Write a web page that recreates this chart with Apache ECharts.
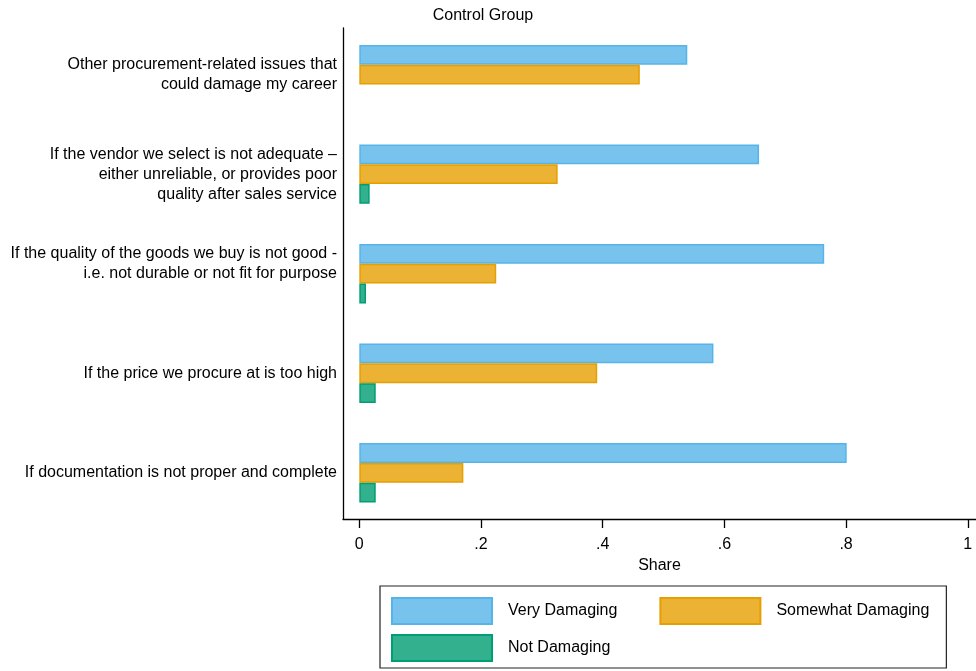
<!DOCTYPE html>
<html>
<head>
<meta charset="utf-8">
<script src="https://cdn.jsdelivr.net/npm/echarts@6/dist/echarts.min.js"></script>
<style>html,body{margin:0;padding:0;background:#fff}#c{width:976px;height:671px}</style>
</head>
<body>
<div id="c"></div>
<script>
const categories = [
  'Other procurement-related issues that\ncould damage my career',
  'If the vendor we select is not adequate \u2013\neither unreliable, or provides poor\nquality after sales service',
  'If the quality of the goods we buy is not good -\ni.e. not durable or not fit for purpose\n ',
  'If the price we procure at is too high',
  'If documentation is not proper and complete'
];
const veryDamaging     = [0.539, 0.657, 0.764, 0.582, 0.801];
const somewhatDamaging = [0.461, 0.326, 0.225, 0.391, 0.171];
const notDamaging      = [null, 0.017, 0.011, 0.027, 0.027];
const tickValues = [0, 0.2, 0.4, 0.6, 0.8, 1];
const tickLabels = ['0', '.2', '.4', '.6', '.8', '1'];

const FONT = '"Liberation Sans", Arial, Helvetica, sans-serif';
const FS = 16;
const XMIN = -0.0268, XMAX = 1.0135;

const chart = echarts.init(document.getElementById('c'));
function mk(name, data, col, rgba) {
  return {
    name: name, type: 'bar', data: data,
    xAxisIndex: 1, yAxisIndex: 1,
    barWidth: 19.8, barGap: '0%',
    itemStyle: { color: rgba, borderColor: col, borderWidth: 1.5 },
    emphasis: { disabled: true }
  };
}
chart.setOption({
  animation: false,
  backgroundColor: '#fff',
  textStyle: { fontFamily: FONT },
  title: {
    text: 'Control Group', left: 483, top: 8, textAlign: 'center', padding: 0,
    textStyle: { fontFamily: FONT, fontSize: FS, fontWeight: 'normal', color: '#000' }
  },
  grid: [
    { left: 343, right: 0, top: 28, bottom: 152 },
    { left: 343, right: 0, top: 24.8, height: 497.8 }
  ],
  xAxis: [
    {
      gridIndex: 0, type: 'value', min: XMIN, max: XMAX,
      axisLine: { show: true, onZero: false, lineStyle: { color: '#000', width: 1.3 } },
      axisTick: { show: true, length: 9, customValues: tickValues, lineStyle: { color: '#000', width: 1.3 } },
      axisLabel: {
        show: true, customValues: tickValues, margin: 18,
        fontFamily: FONT, fontSize: FS, color: '#000',
        formatter: function (v) { const i = tickValues.findIndex(t => Math.abs(t - v) < 1e-9); return i >= 0 ? tickLabels[i] : ''; }
      },
      splitLine: { show: false },
      name: 'Share', nameLocation: 'middle', nameGap: 31,
      nameTextStyle: { fontFamily: FONT, fontSize: FS, color: '#000' }
    },
    {
      gridIndex: 1, type: 'value', min: XMIN, max: XMAX, show: false,
      splitLine: { show: false }
    }
  ],
  yAxis: [
    {
      gridIndex: 0, type: 'value', min: 0, max: 1,
      axisLine: { show: true, onZero: false, lineStyle: { color: '#000', width: 1.3 } },
      axisTick: { show: false }, axisLabel: { show: false }, splitLine: { show: false }
    },
    {
      gridIndex: 1, type: 'category', data: categories, inverse: true,
      axisLine: { show: false }, axisTick: { show: false }, splitLine: { show: false },
      axisLabel: { margin: 6, fontFamily: FONT, fontSize: FS, lineHeight: 20, color: '#000', align: 'right', padding: [6, 0, 0, 0] }
    }
  ],
  legend: [
    {
      data: ['Very Damaging', 'Somewhat Damaging'],
      left: 380, top: 586, orient: 'horizontal',
      padding: [11, 17, 43, 11],
      itemWidth: 100, itemHeight: 26, itemGap: 42,
      borderColor: '#222', borderWidth: 1.2,
      icon: 'rect', selectedMode: false,
      textStyle: { fontFamily: FONT, fontSize: FS, color: '#000', padding: [0, 0, 0, 11] }
    },
    {
      data: ['Not Damaging'],
      left: 391, top: 634, orient: 'horizontal', padding: 0,
      itemWidth: 100, itemHeight: 26,
      icon: 'rect', selectedMode: false,
      textStyle: { fontFamily: FONT, fontSize: FS, color: '#000', padding: [0, 0, 0, 11] }
    }
  ],
  series: [
    mk('Very Damaging', veryDamaging, '#56B4E9', 'rgba(86,180,233,0.8)'),
    mk('Somewhat Damaging', somewhatDamaging, '#E69F00', 'rgba(230,159,0,0.8)'),
    mk('Not Damaging', notDamaging, '#009E73', 'rgba(0,158,115,0.8)')
  ]
});
</script>
</body>
</html>
